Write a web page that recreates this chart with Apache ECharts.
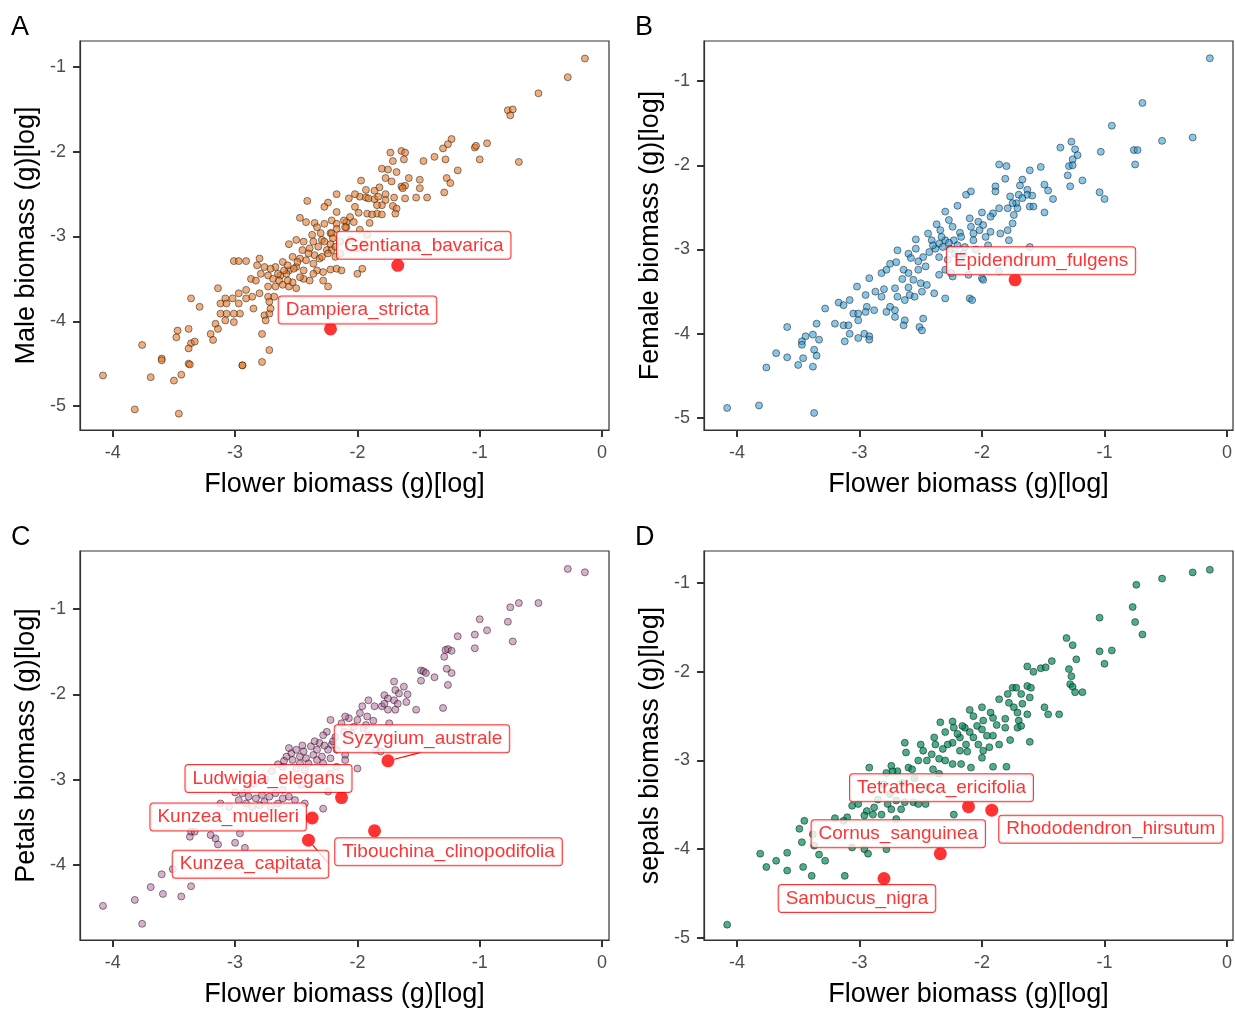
<!DOCTYPE html>
<html>
<head>
<meta charset="utf-8">
<script src="https://cdn.jsdelivr.net/npm/echarts@6/dist/echarts.min.js"></script>
<style>
  html, body { margin: 0; padding: 0; background: #fff; }
  #chart { width: 1235px; height: 1009px; }
</style>
</head>
<body>
<div id="chart"></div>
<script>
// log10 flower biomass vs log10 organ biomass, one [x, y] pair per species
const maleBiomass = [
  [-0.14,-0.90],[-0.28,-1.12],[-0.52,-1.31],[-0.77,-1.51],[-0.73,-1.50],[-0.75,-1.57],[-0.68,-2.12],[-0.94,-1.90],
  [-1.04,-1.95],[-1.03,-1.93],[-1.00,-2.09],[-1.23,-1.85],[-1.26,-1.91],[-1.30,-1.96],[-1.37,-2.06],[-1.28,-2.09],
  [-1.18,-2.22],[-1.46,-2.11],[-1.27,-2.31],[-1.24,-2.37],[-1.29,-2.48],[-1.43,-2.54],[-1.52,-2.54],[-1.61,-2.55],
  [-1.73,-2.01],[-1.64,-1.99],[-1.61,-2.01],[-1.62,-2.09],[-1.71,-2.11],[-1.80,-2.20],[-1.75,-2.21],[-1.68,-2.24],
  [-1.77,-2.31],[-1.58,-2.31],[-1.49,-2.33],[-1.49,-2.43],[-1.64,-2.41],[-1.61,-2.40],[-1.63,-2.43],[-1.72,-2.35],
  [-1.82,-2.42],[-1.86,-2.46],[-1.93,-2.45],[-1.98,-2.53],[-1.77,-2.50],[-1.77,-2.57],[-1.70,-2.54],[-1.71,-2.64],
  [-1.68,-2.67],[-1.69,-2.73],[-1.97,-2.34],[-1.93,-2.54],[-2.02,-2.50],[-2.07,-2.55],[-1.91,-2.55],[-1.86,-2.56],
  [-1.83,-2.53],[-1.80,-2.63],[-1.84,-2.73],[-1.80,-2.74],[-2.17,-2.50],[-2.24,-2.60],[-2.27,-2.65],[-2.17,-2.71],
  [-2.09,-2.83],[-2.06,-2.77],[-1.99,-2.72],[-1.92,-2.73],[-1.88,-2.74],[-2.41,-2.58],[-2.47,-2.78],[-2.42,-2.83],
  [-2.35,-2.84],[-2.27,-2.85],[-2.21,-2.81],[-2.17,-2.85],[-2.09,-2.89],[-2.03,-2.83],[-1.90,-2.84],[-2.56,-3.09],
  [-2.44,-3.06],[-2.37,-2.98],[-2.30,-2.96],[-2.29,-3.04],[-2.22,-3.09],[-2.25,-3.16],[-2.21,-3.16],[-2.14,-3.20],
  [-2.22,-2.96],[-2.06,-3.04],[-1.98,-2.92],[-1.92,-2.98],[-2.00,-3.14],[-1.95,-3.08],[-2.45,-3.16],[-2.39,-3.14],
  [-2.35,-3.22],[-2.31,-3.26],[-2.36,-3.32],[-2.42,-3.28],[-2.47,-3.26],[-2.53,-3.24],[-2.50,-3.36],[-2.56,-3.40],
  [-2.61,-3.30],[-2.67,-3.36],[-2.63,-3.46],[-2.58,-3.44],[-2.52,-3.38],[-2.44,-3.40],[-2.33,-3.40],[-2.28,-3.42],
  [-2.22,-3.39],[-2.17,-3.38],[-2.13,-3.40],[-2.28,-3.52],[-2.29,-3.24],[-2.36,-3.06],[-2.33,-2.89],[-2.17,-2.91],
  [-2.21,-2.96],[-2.10,-2.89],[-3.01,-3.29],[-2.97,-3.29],[-2.91,-3.29],[-2.80,-3.26],[-2.82,-3.34],[-2.76,-3.36],
  [-2.71,-3.38],[-2.87,-3.50],[-2.83,-3.52],[-2.79,-3.44],[-2.73,-3.46],[-2.69,-3.50],[-2.64,-3.52],[-2.61,-3.57],
  [-2.73,-3.59],[-2.67,-3.59],[-2.56,-3.59],[-2.50,-3.61],[-2.44,-3.50],[-2.39,-3.52],[-2.53,-3.54],[-2.24,-3.59],
  [-2.00,-3.44],[-1.96,-3.38],[-3.14,-3.61],[-2.97,-3.67],[-2.91,-3.63],[-2.86,-3.71],[-2.80,-3.67],[-2.91,-3.73],
  [-3.02,-3.73],[-3.08,-3.73],[-3.12,-3.79],[-3.07,-3.79],[-2.97,-3.79],[-2.85,-3.85],[-2.96,-3.91],[-3.01,-3.91],
  [-3.07,-3.91],[-3.12,-3.91],[-3.08,-3.99],[-3.01,-4.01],[-3.16,-4.03],[-3.14,-4.09],[-2.76,-3.93],[-2.72,-3.91],
  [-2.71,-3.85],[-2.75,-3.99],[-2.73,-3.71],[-2.68,-3.71],[-2.72,-3.77],[-3.36,-3.73],[-3.29,-3.83],[-3.20,-4.15],
  [-3.18,-4.22],[-2.78,-4.15],[-2.72,-4.34],[-2.78,-4.48],[-2.94,-4.52],[-2.94,-4.52],[-3.47,-4.11],[-3.38,-4.09],
  [-3.48,-4.19],[-3.36,-4.26],[-3.33,-4.24],[-3.38,-4.32],[-3.76,-4.28],[-3.60,-4.44],[-3.60,-4.46],[-3.38,-4.50],
  [-3.37,-4.51],[-3.44,-4.63],[-3.50,-4.70],[-3.69,-4.66],[-4.08,-4.64],[-3.82,-5.04],[-3.46,-5.09],
  [-2.60,-3.40],[-2.57,-3.34],[-2.49,-3.30],[-2.40,-3.20],[-2.32,-3.12],[-2.27,-3.06],[-2.20,-3.02],[-2.24,-3.20],
  [-2.18,-3.24],[-2.36,-3.44],[-2.47,-3.48],[-2.57,-3.52],[-2.65,-3.44],[-2.50,-3.04],[-2.18,-3.12],[-2.14,-3.06],
  [-2.11,-2.81],[-2.02,-2.65],[-1.84,-2.63]
];

const femaleBiomass = [
  [-0.14,-0.73],[-0.69,-1.26],[-0.94,-1.53],[-0.28,-1.67],[-0.53,-1.71],[-0.76,-1.82],[-0.73,-1.82],[-0.75,-1.99],
  [-1.03,-1.84],[-1.04,-2.32],[-1.00,-2.40],[-1.27,-1.72],[-1.24,-1.81],[-1.22,-1.88],[-1.26,-1.93],[-1.29,-2.01],
  [-1.26,-2.00],[-1.36,-1.79],[-1.30,-2.12],[-1.28,-2.25],[-1.18,-2.18],[-1.49,-2.23],[-1.46,-2.30],[-1.42,-2.40],
  [-1.49,-2.56],[-1.52,-2.02],[-1.61,-2.06],[-1.67,-2.17],[-1.69,-2.24],[-1.63,-2.29],[-1.63,-2.35],[-1.59,-2.36],
  [-1.70,-2.35],[-1.72,-2.45],[-1.67,-2.39],[-1.86,-1.99],[-1.80,-2.01],[-1.81,-2.16],[-1.89,-2.25],[-1.89,-2.31],
  [-1.77,-2.37],[-1.75,-2.45],[-1.86,-2.51],[-1.79,-2.51],[-1.71,-2.51],[-1.61,-2.49],[-1.58,-2.49],[-1.74,-2.59],
  [-1.75,-2.69],[-1.79,-2.77],[-1.78,-2.89],[-1.85,-2.81],[-1.91,-2.57],[-1.93,-2.61],[-2.00,-2.56],[-2.03,-2.67],
  [-1.99,-2.71],[-1.93,-2.79],[-1.97,-2.85],[-2.02,-2.77],[-2.07,-2.81],[-2.09,-2.73],[-2.10,-2.63],[-2.07,-2.89],
  [-2.13,-2.35],[-2.09,-2.31],[-2.20,-2.48],[-2.30,-2.55],[-2.37,-2.70],[-2.34,-2.77],[-2.27,-2.65],[-2.24,-2.73],
  [-2.18,-2.80],[-2.17,-2.85],[-2.23,-2.89],[-2.30,-2.89],[-2.35,-2.93],[-2.38,-2.99],[-2.41,-2.89],[-2.44,-2.81],
  [-2.32,-2.97],[-2.26,-2.99],[-2.20,-2.95],[-2.14,-2.97],[-2.54,-2.88],[-2.69,-3.01],[-2.60,-3.05],[-2.54,-2.99],
  [-2.48,-3.09],[-2.43,-3.03],[-2.35,-3.09],[-2.28,-3.12],[-2.25,-3.28],[-2.18,-3.12],[-2.11,-3.30],[-2.00,-3.34],
  [-1.99,-3.36],[-1.86,-3.26],[-1.78,-3.10],[-1.61,-2.97],[-2.75,-3.17],[-2.70,-3.15],[-2.64,-3.24],[-2.60,-3.28],
  [-2.52,-3.14],[-2.46,-3.20],[-2.52,-3.24],[-2.56,-3.36],[-2.50,-3.40],[-2.45,-3.42],[-2.39,-3.52],[-2.35,-3.30],
  [-2.30,-3.24],[-2.24,-3.32],[-2.30,-3.58],[-2.10,-3.58],[-2.08,-3.60],[-2.49,-3.50],[-2.92,-3.34],[-2.82,-3.28],
  [-2.78,-3.24],[-3.02,-3.44],[-2.95,-3.54],[-2.87,-3.50],[-2.82,-3.56],[-2.80,-3.47],[-2.71,-3.46],[-2.69,-3.56],
  [-2.63,-3.60],[-2.59,-3.54],[-2.55,-3.56],[-2.75,-3.68],[-2.71,-3.72],[-2.78,-3.74],[-2.88,-3.72],[-2.94,-3.68],
  [-2.95,-3.74],[-3.05,-3.76],[-3.01,-3.76],[-3.08,-3.60],[-3.17,-3.63],[-3.13,-3.66],[-3.28,-3.70],[-2.71,-3.80],
  [-2.63,-3.84],[-2.64,-3.90],[-2.48,-3.82],[-2.51,-3.92],[-2.49,-3.96],[-3.01,-3.84],[-3.20,-3.88],[-3.13,-3.90],
  [-3.09,-3.90],[-3.08,-4.00],[-3.12,-4.09],[-3.01,-4.05],[-2.96,-4.00],[-2.92,-4.03],[-2.92,-4.07],[-3.35,-3.88],
  [-3.33,-4.07],[-3.38,-4.01],[-3.44,-4.03],[-3.47,-4.09],[-3.47,-4.13],[-3.59,-3.92],[-3.68,-4.23],[-3.59,-4.28],
  [-3.50,-4.37],[-3.46,-4.29],[-3.38,-4.39],[-3.37,-4.19],[-3.35,-4.26],[-3.76,-4.40],[-4.08,-4.88],[-3.82,-4.85],
  [-3.37,-4.94],
  [-2.40,-2.95],[-2.33,-2.85],[-2.27,-2.92],[-2.22,-3.05],[-2.15,-3.05],[-2.05,-3.00],[-1.95,-2.95],[-2.58,-3.10],
  [-2.65,-3.35],[-2.60,-3.45]
];

const petalsBiomass = [
  [-0.28,-0.53],[-0.14,-0.57],[-0.75,-0.98],[-0.68,-0.93],[-0.52,-0.93],[-1.00,-1.12],[-0.77,-1.15],[-0.73,-1.38],
  [-1.04,-1.30],[-0.94,-1.25],[-1.04,-1.46],[-1.18,-1.32],[-1.28,-1.48],[-1.26,-1.47],[-1.23,-1.49],[-1.29,-1.56],
  [-1.27,-1.70],[-1.23,-1.75],[-1.26,-1.89],[-1.30,-2.16],[-1.37,-1.80],[-1.48,-1.72],[-1.46,-1.73],[-1.44,-1.75],
  [-1.48,-1.84],[-1.52,-2.18],[-1.70,-1.85],[-1.62,-1.91],[-1.69,-1.95],[-1.78,-2.01],[-1.75,-2.05],[-1.66,-1.99],
  [-1.59,-2.00],[-1.70,-2.07],[-1.60,-2.09],[-1.69,-2.18],[-1.75,-2.18],[-1.80,-2.14],[-1.86,-2.14],[-1.91,-2.07],
  [-1.96,-2.14],[-1.78,-2.11],[-1.67,-2.11],[-1.98,-2.22],[-1.92,-2.26],[-1.87,-2.31],[-1.93,-2.36],[-2.00,-2.30],
  [-2.07,-2.28],[-2.03,-2.38],[-2.10,-2.26],[-2.13,-2.34],[-2.22,-2.30],[-2.11,-2.44],[-2.18,-2.50],[-2.25,-2.44],
  [-2.21,-2.59],[-2.28,-2.48],[-2.31,-2.57],[-2.24,-2.65],[-2.17,-2.65],[-2.10,-2.71],[-2.10,-2.77],[-2.00,-2.87],
  [-1.85,-2.65],[-1.81,-2.67],[-1.74,-2.34],[-1.91,-2.48],[-2.54,-2.69],[-2.50,-2.65],[-2.47,-2.73],[-2.44,-2.67],
  [-2.42,-2.75],[-2.38,-2.61],[-2.36,-2.71],[-2.33,-2.77],[-2.40,-2.81],[-2.47,-2.81],[-2.53,-2.77],[-2.33,-2.65],
  [-2.29,-2.73],[-2.58,-2.73],[-2.61,-2.85],[-2.50,-2.87],[-2.43,-2.89],[-2.28,-2.81],[-2.22,-2.75],[-2.22,-2.93],
  [-2.17,-2.85],[-2.94,-3.16],[-2.89,-3.20],[-2.83,-3.22],[-2.78,-3.18],[-2.72,-3.20],[-2.67,-3.16],[-2.61,-3.22],
  [-2.56,-3.20],[-2.76,-3.26],[-2.65,-3.28],[-2.97,-3.24],[-2.91,-3.28],[-2.86,-3.32],[-2.80,-3.30],[-2.71,-3.32],
  [-2.46,-3.06],[-2.51,-3.24],[-2.61,-3.12],[-2.24,-3.14],[-2.43,-3.28],[-2.28,-3.34],[-2.96,-3.63],[-3.37,-3.67],
  [-3.36,-3.61],[-3.33,-3.61],[-3.20,-3.65],[-3.16,-3.69],[-3.14,-3.76],[-3.00,-3.74],[-2.92,-3.80],[-3.60,-4.11],
  [-3.51,-4.05],[-3.69,-4.26],[-3.59,-4.34],[-3.44,-4.37],[-3.36,-4.25],[-3.82,-4.41],[-4.08,-4.48],[-3.76,-4.69],
  [-2.56,-2.63],[-2.45,-2.60],[-2.35,-2.55],[-2.27,-2.60],[-2.20,-2.55],[-2.05,-2.45],[-1.95,-2.40],[-2.60,-2.78],
  [-2.65,-2.82],[-2.70,-2.90],[-2.75,-3.00],[-2.85,-3.05],[-2.90,-3.10],[-3.00,-3.15],[-3.12,-3.28],[-3.05,-3.32]
];

const sepalsBiomass = [
  [-0.14,-0.85],[-0.28,-0.88],[-0.53,-0.95],[-0.74,-1.02],[-0.77,-1.27],[-0.75,-1.44],[-0.69,-1.58],[-1.04,-1.39],
  [-1.31,-1.62],[-1.26,-1.70],[-1.23,-1.86],[-1.04,-1.77],[-0.94,-1.76],[-1.00,-1.91],[-1.63,-1.94],[-1.58,-2.00],
  [-1.52,-1.96],[-1.48,-1.95],[-1.43,-1.88],[-1.29,-1.97],[-1.27,-2.05],[-1.28,-2.14],[-1.26,-2.17],[-1.24,-2.23],
  [-1.18,-2.23],[-1.49,-2.40],[-1.46,-2.48],[-1.37,-2.48],[-1.75,-2.18],[-1.72,-2.18],[-1.63,-2.16],[-1.60,-2.18],
  [-1.68,-2.25],[-1.61,-2.29],[-1.79,-2.25],[-1.86,-2.31],[-1.78,-2.35],[-1.74,-2.40],[-1.67,-2.36],[-1.71,-2.46],
  [-1.63,-2.48],[-1.70,-2.55],[-1.71,-2.63],[-1.68,-2.61],[-1.81,-2.53],[-1.81,-2.63],[-1.77,-2.77],[-1.61,-2.79],
  [-1.86,-2.82],[-1.91,-2.72],[-1.94,-2.85],[-1.99,-2.89],[-2.00,-2.97],[-1.91,-3.07],[-1.80,-3.07],[-2.10,-2.43],
  [-2.00,-2.40],[-2.07,-2.50],[-1.93,-2.46],[-1.91,-2.52],[-1.99,-2.55],[-2.04,-2.61],[-2.10,-2.68],[-2.14,-2.63],
  [-2.18,-2.74],[-2.07,-2.74],[-2.03,-2.82],[-2.13,-2.82],[-1.96,-2.72],[-2.34,-2.57],[-2.24,-2.56],[-2.23,-2.63],
  [-2.30,-2.68],[-2.24,-2.80],[-2.18,-2.89],[-2.16,-2.61],[-2.28,-2.82],[-2.32,-2.87],[-2.38,-2.82],[-2.39,-2.74],
  [-2.41,-2.93],[-2.35,-2.98],[-2.30,-3.00],[-2.24,-3.04],[-2.17,-3.04],[-2.09,-3.08],[-2.48,-2.89],[-2.52,-3.00],
  [-2.63,-2.80],[-2.62,-2.91],[-2.50,-2.82],[-2.60,-3.08],[-2.57,-3.10],[-2.69,-3.12],[-2.73,-3.12],[-2.74,-3.06],
  [-2.78,-3.14],[-2.92,-3.08],[-2.80,-3.27],[-2.75,-3.38],[-2.77,-3.49],[-2.70,-3.45],[-2.66,-3.55],[-2.56,-3.47],
  [-2.46,-3.49],[-2.52,-3.49],[-2.63,-3.47],[-2.85,-3.44],[-2.88,-3.53],[-2.94,-3.57],[-2.96,-3.62],[-3.06,-3.51],
  [-3.01,-3.49],[-2.89,-3.61],[-2.82,-3.61],[-2.74,-3.55],[-2.70,-3.66],[-2.23,-3.61],[-3.20,-3.65],[-3.10,-3.64],
  [-3.13,-3.68],[-3.45,-3.68],[-3.49,-3.77],[-3.38,-3.83],[-3.47,-3.92],[-3.37,-3.96],[-3.06,-3.98],[-2.96,-4.00],
  [-2.93,-4.05],[-2.78,-4.00],[-3.33,-4.06],[-3.28,-4.13],[-3.81,-4.05],[-3.68,-4.13],[-3.76,-4.20],[-3.59,-4.04],
  [-3.59,-4.24],[-3.46,-4.20],[-3.39,-4.30],[-3.12,-4.30],[-4.08,-4.85],
  [-2.45,-3.00],[-2.40,-3.10],[-2.35,-3.15],[-2.55,-3.20],[-2.65,-3.25],[-2.45,-3.30],[-2.20,-2.70],[-2.12,-2.90],
  [-2.00,-2.65],[-1.88,-2.60]
];

// highlighted species (name, flower, organ)
const maleNames = ['Gentiana_bavarica', 'Dampiera_stricta'];
const maleHighlight = [[-1.67, -3.34], [-2.22, -4.09]];
const femaleNames = ['Epidendrum_fulgens'];
const femaleHighlight = [[-1.73, -3.36]];
const petalsNames = ['Syzygium_australe', 'Ludwigia_elegans', 'Kunzea_muelleri', 'Kunzea_capitata', 'Tibouchina_clinopodifolia'];
const petalsHighlight = [[-1.75, -2.78], [-2.13, -3.21], [-2.37, -3.45], [-2.40, -3.71], [-1.86, -3.60]];
const sepalsNames = ['Tetratheca_ericifolia', 'Rhododendron_hirsutum', 'Cornus_sanguinea', 'Sambucus_nigra'];
const sepalsHighlight = [[-2.11, -3.52], [-1.92, -3.56], [-2.34, -4.05], [-2.80, -4.33]];

const xTicks = [-4, -3, -2, -1, 0];
const yTicks = [-5, -4, -3, -2, -1];
const yTicksPetals = [-4, -3, -2, -1];

// label placement (like ggrepel did it), pixels from the point
const labelOffsets = {
  Gentiana_bavarica: [26, -20],
  Dampiera_stricta: [27, -19],
  Epidendrum_fulgens: [26, -19],
  Syzygium_australe: [34, -22],
  Ludwigia_elegans: [-73, -19],
  Kunzea_muelleri: [-84, -1],
  Kunzea_capitata: [-58, 24],
  Tibouchina_clinopodifolia: [74, 21],
  Tetratheca_ericifolia: [-27, -19],
  Rhododendron_hirsutum: [119, 19],
  Cornus_sanguinea: [-42, -20],
  Sambucus_nigra: [-27, 20]
};
const withLeader = ['Syzygium_australe', 'Kunzea_capitata'];

const FONT = 'Liberation Sans, Arial, sans-serif';

const panels = [
  { letter: 'A', yName: 'Male biomass (g)[log]', data: maleBiomass, names: maleNames, hi: maleHighlight,
    fill: 'rgba(230,120,40,0.6)', grid: { left: 80, top: 41 }, x: [-4.268, 0.057], y: [-5.283, -0.693], yt: yTicks },
  { letter: 'B', yName: 'Female biomass (g)[log]', data: femaleBiomass, names: femaleNames, hi: femaleHighlight,
    fill: 'rgba(40,150,210,0.55)', grid: { left: 704, top: 41 }, x: [-4.269, 0.049], y: [-5.142, -0.525], yt: yTicks },
  { letter: 'C', yName: 'Petals biomass (g)[log]', data: petalsBiomass, names: petalsNames, hi: petalsHighlight,
    fill: 'rgba(170,80,140,0.45)', grid: { left: 80, top: 551 }, x: [-4.268, 0.057], y: [-4.880, -0.320], yt: yTicksPetals },
  { letter: 'D', yName: 'sepals biomass (g)[log]', data: sepalsBiomass, names: sepalsNames, hi: sepalsHighlight,
    fill: 'rgba(0,140,90,0.7)', grid: { left: 704, top: 551 }, x: [-4.269, 0.049], y: [-5.023, -0.639], yt: yTicks }
];

const chart = echarts.init(document.getElementById('chart'), null, { renderer: 'canvas' });

const grid = [], xAxis = [], yAxis = [], series = [], graphic = [];

panels.forEach((p, i) => {
  grid.push({
    left: p.grid.left, top: p.grid.top, width: 529, height: 389,
    show: true, borderColor: '#333', borderWidth: 1.2, backgroundColor: '#fff'
  });
  xAxis.push({
    type: 'value', gridIndex: i, min: p.x[0], max: p.x[1], position: 'bottom',
    name: 'Flower biomass (g)[log]', nameLocation: 'middle', nameGap: 41,
    nameTextStyle: { fontSize: 27, color: '#000', fontFamily: FONT },
    axisLine: { show: true, onZero: false, lineStyle: { color: '#333', width: 1.2 } },
    axisTick: { show: true, length: 7, customValues: xTicks, lineStyle: { color: '#333', width: 2 } },
    axisLabel: { customValues: xTicks, fontSize: 18, color: '#4d4d4d', fontFamily: FONT, margin: 14 },
    splitLine: { show: false }
  });
  yAxis.push({
    type: 'value', gridIndex: i, min: p.y[0], max: p.y[1], position: 'left',
    name: p.yName, nameLocation: 'middle', nameGap: 40,
    nameTextStyle: { fontSize: 27, color: '#000', fontFamily: FONT },
    axisLine: { show: true, onZero: false, lineStyle: { color: '#333', width: 1.2 } },
    axisTick: { show: true, length: 7, customValues: p.yt, lineStyle: { color: '#333', width: 2 } },
    axisLabel: { customValues: p.yt, fontSize: 18, color: '#4d4d4d', fontFamily: FONT, margin: 14 },
    splitLine: { show: false }
  });
  series.push({
    type: 'scatter', xAxisIndex: i, yAxisIndex: i, data: p.data,
    symbolSize: 7,
    itemStyle: { color: p.fill, borderColor: 'rgba(0,0,0,0.65)', borderWidth: 0.7, opacity: 1 },
    emphasis: { disabled: true }, silent: true, z: 2
  });
  series.push({
    type: 'scatter', xAxisIndex: i, yAxisIndex: i, z: 5,
    symbolSize: 13, itemStyle: { color: '#ff0000' },
    emphasis: { disabled: true }, silent: true,
    label: {
      show: true, position: 'inside', formatter: '{b}',
      color: '#ff0000', fontSize: 19, lineHeight: 19, fontFamily: FONT,
      backgroundColor: '#fff', borderColor: '#ff0000', borderWidth: 1, borderRadius: 3,
      padding: [4, 7]
    },
    labelLine: { show: false },
    data: p.hi.map((v, k) => {
      const name = p.names[k];
      const item = { name: name, value: v, label: { offset: labelOffsets[name] } };
      if (withLeader.includes(name)) {
        item.labelLine = { show: true, lineStyle: { color: '#ff0000', width: 1.2 } };
      }
      return item;
    })
  });
  graphic.push({
    type: 'text', left: p.grid.left - 69, top: p.grid.top - 27,
    style: { text: p.letter, fontSize: 27, fill: '#000', fontFamily: FONT }
  });
});

chart.setOption({
  animation: false,
  backgroundColor: '#fff',
  grid, xAxis, yAxis, series, graphic
});
</script>
</body>
</html>
